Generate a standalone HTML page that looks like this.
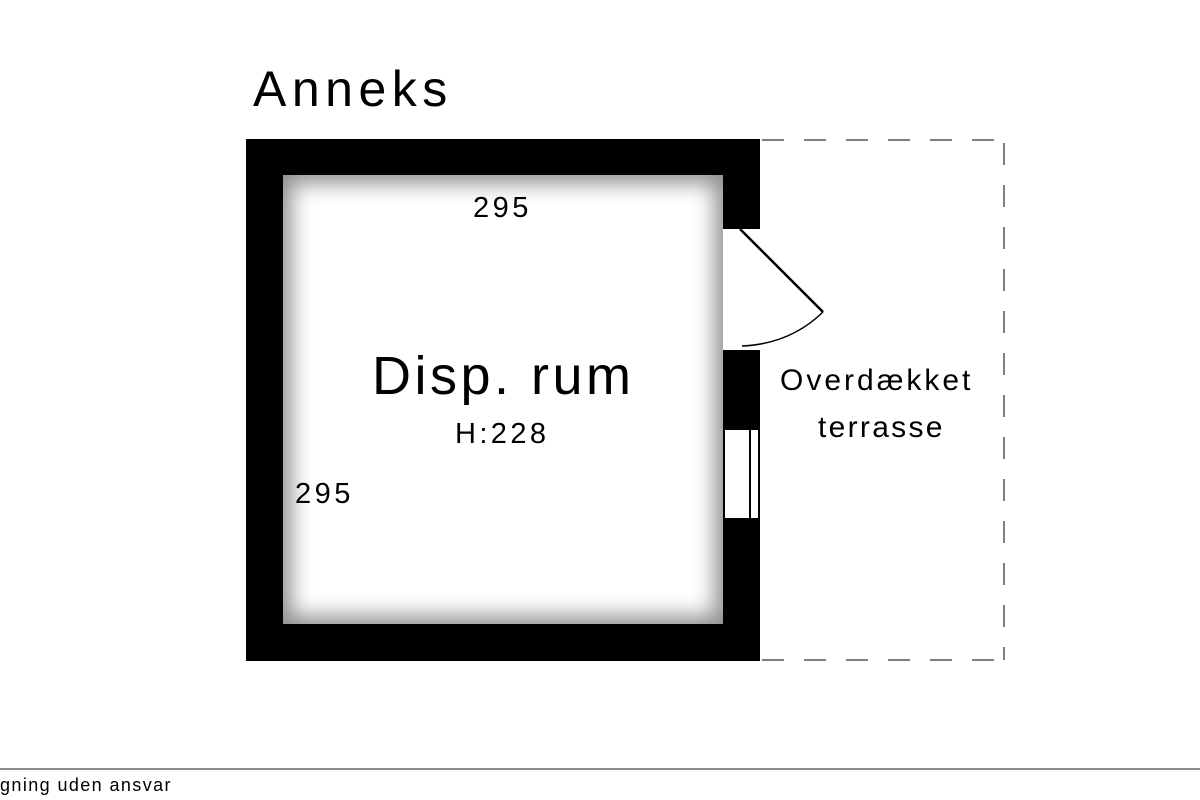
<!DOCTYPE html>
<html><head><style>
body{margin:0;width:1200px;height:800px;background:#fff;position:relative;overflow:hidden;font-family:"Liberation Sans",sans-serif;}
.a{position:absolute}
.t{position:absolute;white-space:nowrap;color:#000}
</style></head><body>
<div class="t" style="left:253px;top:60px;font-size:50px;letter-spacing:5.5px;">Anneks</div>
<div class="a" style="left:246px;top:139px;width:514px;height:522px;background:#000"></div>
<div class="a" style="left:283px;top:175px;width:440px;height:449px;background:#fff;box-shadow:inset 0 0 22px 8px rgba(0,0,0,0.45)"></div>
<div class="a" style="left:723px;top:229px;width:37px;height:121px;background:#fff"></div>
<div class="a" style="left:724px;top:430px;width:33px;height:88px;background:#fff;border-left:1px solid #000"></div>
<div class="a" style="left:749px;top:430px;width:2px;height:88px;background:#000"></div>
<svg class="a" style="left:0;top:0" width="1200" height="800">
<line x1="740" y1="229" x2="823" y2="312" stroke="#000" stroke-width="2.5"/>
<path d="M823 312 Q790 344 742 346" fill="none" stroke="#000" stroke-width="1.5"/>
<g stroke="#555" stroke-width="1.5" stroke-dasharray="22,20" fill="none">
<line x1="762" y1="140" x2="1004" y2="140"/>
<line x1="1004" y1="143" x2="1004" y2="660"/>
<line x1="762" y1="660" x2="1004" y2="660"/>
</g>
<line x1="0" y1="769" x2="1200" y2="769" stroke="#666" stroke-width="1.5"/>
</svg>
<div class="t" style="left:473px;top:192px;font-size:29px;letter-spacing:3.5px;">295</div>
<div class="t" style="left:295px;top:478px;font-size:29px;letter-spacing:3.5px;">295</div>
<div class="t" style="left:372px;top:345px;font-size:54px;letter-spacing:3.5px;">Disp. rum</div>
<div class="t" style="left:455px;top:418px;font-size:29px;letter-spacing:3.4px;">H:228</div>
<div class="t" style="left:780px;top:364px;font-size:30px;letter-spacing:3px;">Overdækket</div>
<div class="t" style="left:818px;top:411px;font-size:30px;letter-spacing:2.3px;">terrasse</div>
<div class="t" style="left:0px;top:775px;font-size:18px;letter-spacing:1.4px;">gning uden ansvar</div>
</body></html>
